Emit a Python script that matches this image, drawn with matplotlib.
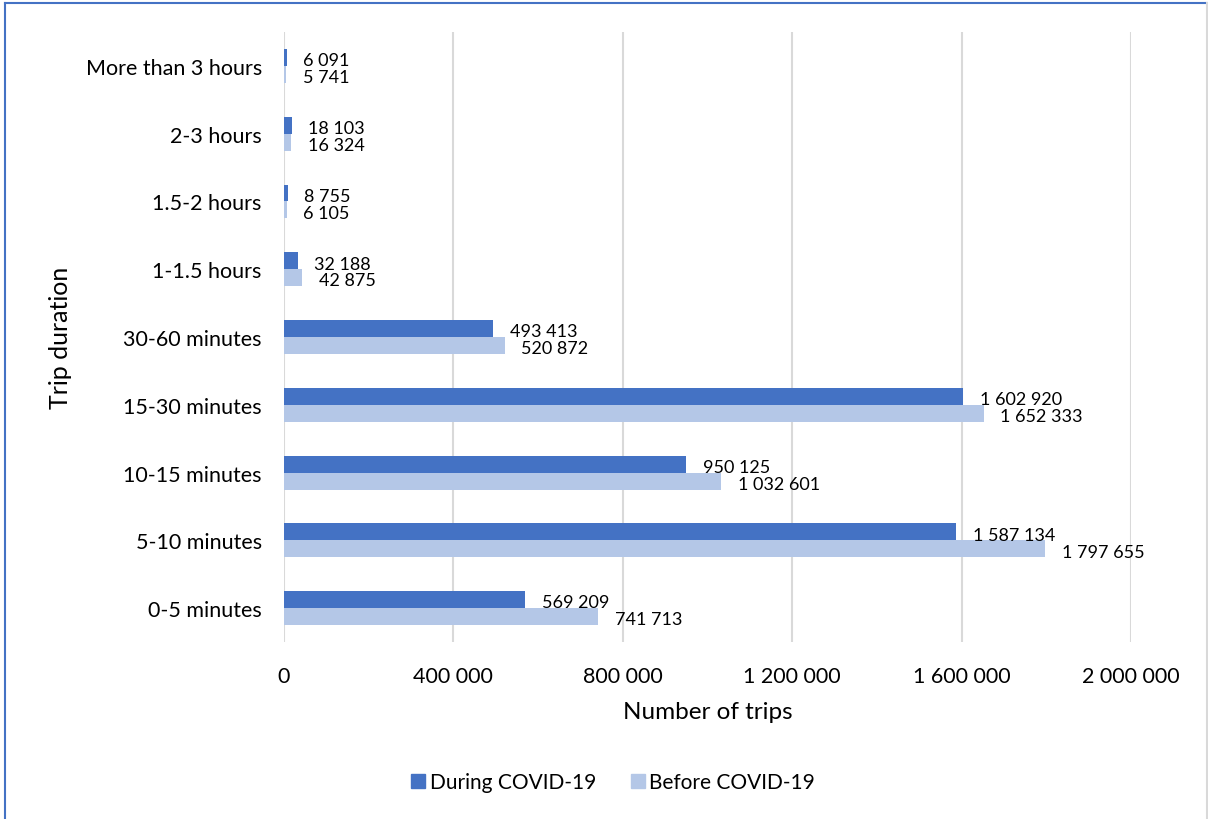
import numpy as np
import matplotlib.pyplot as plt
from matplotlib.lines import Line2D

plt.rcParams['font.family'] = ['Lato', 'DejaVu Sans']

# data (bottom to top)
categories = ['0-5 minutes', '5-10 minutes', '10-15 minutes', '15-30 minutes',
              '30-60 minutes', '1-1.5 hours', '1.5-2 hours', '2-3 hours',
              'More than 3 hours']
during = [569209, 1587134, 950125, 1602920, 493413, 32188, 8755, 18103, 6091]
before = [741713, 1797655, 1032601, 1652333, 520872, 42875, 6105, 16324, 5741]
xticks = [0, 400000, 800000, 1200000, 1600000, 2000000]

c_during = '#4472C4'
c_before = '#B4C7E7'


def fmt(v):
    return f'{v:,}'.replace(',', ' ')


fig = plt.figure(figsize=(12.08, 8.2), dpi=100)
ax = fig.add_axes([284 / 1208, 1 - 643 / 820, (1131 - 284) / 1208, 610 / 820])

y = np.arange(len(categories))
h = 0.25
ax.barh(y + h / 2, during, height=h, color=c_during, label='During COVID-19', zorder=3)
ax.barh(y - h / 2, before, height=h, color=c_before, label='Before COVID-19', zorder=3)

# data labels
for i in range(len(categories)):
    ax.annotate(fmt(during[i]), (during[i], y[i] + h / 2), xytext=(12, -2),
                textcoords='offset points', va='center', ha='left', fontsize=13,
                color='#000000', annotation_clip=False)
    ax.annotate(fmt(before[i]), (before[i], y[i] - h / 2), xytext=(12, -2),
                textcoords='offset points', va='center', ha='left', fontsize=13,
                color='#000000', annotation_clip=False)

ax.set_xlim(0, 2000000)
ax.set_ylim(-0.5, len(categories) - 0.5)
ax.set_xticks(xticks)
ax.set_xticklabels([fmt(v) for v in xticks], fontsize=15.5)
ax.set_yticks(y)
ax.set_yticklabels(categories, fontsize=15.5)
ax.tick_params(axis='both', length=0, colors='#000000')
ax.tick_params(axis='y', pad=16)
ax.tick_params(axis='x', pad=17)
ax.grid(axis='x', color='#D9D9D9', linewidth=1.5, zorder=0)
for s in ax.spines.values():
    s.set_visible(False)

ax.set_xlabel('Number of trips', fontsize=17.5, labelpad=11)
ax.set_ylabel('Trip duration', fontsize=18, labelpad=10)

handles = [Line2D([], [], marker='s', linestyle='none', markersize=10,
                  markerfacecolor=c_during, markeredgecolor=c_during),
           Line2D([], [], marker='s', linestyle='none', markersize=10,
                  markerfacecolor=c_before, markeredgecolor=c_before)]
fig.legend(handles, ['During COVID-19', 'Before COVID-19'], loc='center',
           bbox_to_anchor=(0.506, 1 - 783 / 820), ncol=2, frameon=False,
           fontsize=15, handletextpad=0.05, columnspacing=1.5, handlelength=1.0)

# outer border (blue top/left)
fig.add_artist(Line2D([5 / 1208, 5 / 1208], [0, 1 - 4 / 820], color='#4472C4',
                      linewidth=1.5, transform=fig.transFigure))
fig.add_artist(Line2D([5 / 1208, 1], [1 - 4 / 820, 1 - 4 / 820], color='#4472C4',
                      linewidth=1.5, transform=fig.transFigure))
fig.add_artist(Line2D([1 - 1 / 1208, 1 - 1 / 1208], [0, 1 - 4 / 820], color='#D9D9D9',
                      linewidth=1.5, transform=fig.transFigure))

fig.savefig('out.png', dpi=100)
